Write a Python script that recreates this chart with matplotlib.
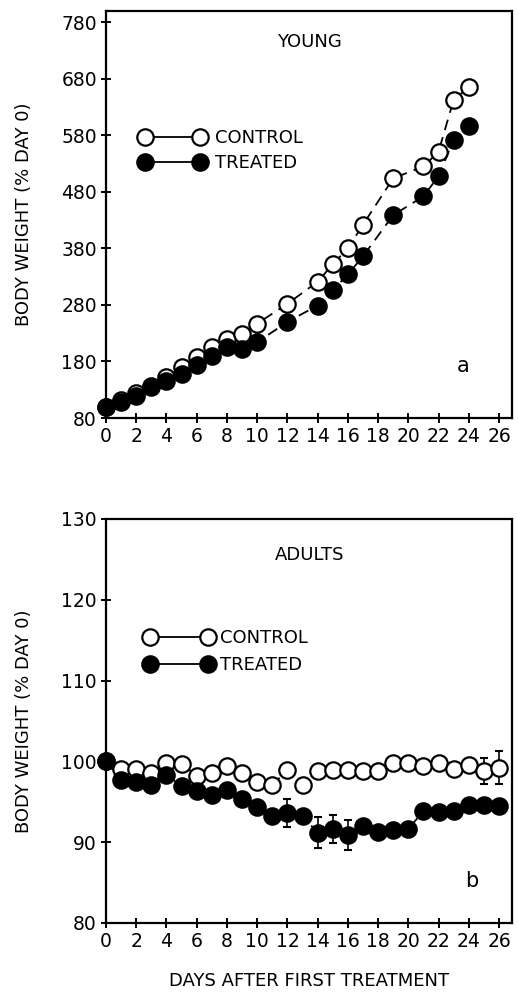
import matplotlib
matplotlib.use("Agg")
import matplotlib.pyplot as plt
from matplotlib.lines import Line2D
import numpy as np

plt.rcParams['font.family'] = ['DejaVu Sans']

# ---------------- data ----------------
young_days = [0, 1, 2, 3, 4, 5, 6, 7, 8, 9, 10, 12, 14, 15, 16, 17, 19, 21, 22, 23, 24]
young_control = [100, 112, 124, 135, 152, 170, 188, 205, 220, 229, 247, 282, 321, 352, 380, 422, 504, 525, 551, 643, 665]
young_treated = [100, 108, 119, 137, 146, 158, 173, 190, 205, 202, 214, 250, 279, 306, 334, 366, 439, 472, 508, 572, 596]

adult_days = list(range(0, 27))
adult_control = [100, 99.1, 99.0, 98.6, 99.8, 99.7, 98.2, 98.6, 99.4, 98.6, 97.5, 97.1, 98.9, 97.1,
                 98.8, 98.9, 98.9, 98.8, 98.8, 99.8, 99.8, 99.4, 99.8, 99.0, 99.5, 98.8, 99.2]
adult_treated = [100, 97.7, 97.5, 97.1, 98.3, 97.0, 96.3, 95.9, 96.5, 95.3, 94.3, 93.2, 93.6, 93.2,
                 91.2, 91.6, 90.9, 92.0, 91.3, 91.5, 91.6, 93.9, 93.7, 93.8, 94.6, 94.6, 94.5]
adult_control_err = [0]*25 + [1.6, 2.05]
adult_treated_err = [0]*12 + [1.7, 0, 1.9, 1.75, 1.9] + [0]*10

young_yticks = [80, 180, 280, 380, 480, 580, 680, 780]
adult_yticks = [80, 90, 100, 110, 120, 130]
xticks = list(range(0, 27, 2))

FS = 13
TFS = 13.5
W, H = 518, 998
fig = plt.figure(figsize=(W/100, H/100), dpi=100)

def px_axes(left, top, right, bottom):
    return fig.add_axes([left/W, 1 - bottom/H, (right-left)/W, (bottom-top)/H])

ax1 = px_axes(106, 11, 512, 418)
ax2 = px_axes(106, 519, 512, 923)

ms = 11.8
mew = 1.6
dash = (0, (6, 4))

def style(ax, yticks, ylim):
    ax.set_xlim(0, 26.86)
    ax.set_ylim(*ylim)
    ax.set_xticks(xticks)
    ax.set_yticks(yticks)
    ax.tick_params(direction='inout', length=7, width=1.4, labelsize=TFS, pad=3)
    for s in ax.spines.values():
        s.set_linewidth(1.6)
    ax.set_ylabel('BODY WEIGHT (% DAY 0)', fontsize=FS)
    ax.yaxis.set_label_coords(-0.18, 0.5)

# top panel
ax1.plot(young_days, young_control, linestyle=dash, color='black', lw=1.3,
         marker='o', ms=ms, mfc='white', mec='black', mew=mew, clip_on=False, zorder=3)
ax1.plot(young_days, young_treated, linestyle=dash, color='black', lw=1.3,
         marker='o', ms=ms, mfc='black', mec='black', mew=mew, clip_on=False, zorder=4)
style(ax1, young_yticks, (80, 800))
ax1.text(0.502, 0.925, 'YOUNG', transform=ax1.transAxes, ha='center', va='center', fontsize=FS)
ax1.text(0.879, 0.128, 'a', transform=ax1.transAxes, ha='center', va='center', fontsize=FS+2)

# bottom panel
ce = np.array(adult_control_err, dtype=float)
te = np.array(adult_treated_err, dtype=float)
ax2.errorbar(adult_days, adult_control, yerr=np.where(ce > 0, ce, np.nan), fmt='none',
             ecolor='black', elinewidth=1.2, capsize=3, capthick=1.5, zorder=2, clip_on=False)
ax2.errorbar(adult_days, adult_treated, yerr=np.where(te > 0, te, np.nan), fmt='none',
             ecolor='black', elinewidth=1.2, capsize=3, capthick=1.5, zorder=2, clip_on=False)
ax2.plot(adult_days, adult_control, linestyle=dash, color='black', lw=1.3,
         marker='o', ms=ms, mfc='white', mec='black', mew=mew, clip_on=False, zorder=3)
ax2.plot(adult_days, adult_treated, linestyle=dash, color='black', lw=1.3,
         marker='o', ms=ms, mfc='black', mec='black', mew=mew, clip_on=False, zorder=4)
style(ax2, adult_yticks, (80, 130))
ax2.text(0.502, 0.912, 'ADULTS', transform=ax2.transAxes, ha='center', va='center', fontsize=FS)
ax2.text(0.901, 0.103, 'b', transform=ax2.transAxes, ha='center', va='center', fontsize=FS+2)
ax2.set_xlabel('DAYS AFTER FIRST TREATMENT', fontsize=FS)
ax2.xaxis.set_label_coords(0.5, -0.121)

# legends
def add_legend(ax, x, y, hl, pad, spacing):
    handles = [Line2D([], [], color='black', lw=1.3, marker='o', ms=ms, mfc='white', mec='black', mew=mew),
               Line2D([], [], color='black', lw=1.3, marker='o', ms=ms, mfc='black', mec='black', mew=mew)]
    ax.legend(handles, ['CONTROL', 'TREATED'], loc='upper left', bbox_to_anchor=(x, y),
              frameon=False, numpoints=2, handlelength=hl, handletextpad=pad, borderpad=0,
              borderaxespad=0, labelspacing=spacing, fontsize=FS)

add_legend(ax1, 0.083, 0.71, 3.65, 0.53, 0.38)
add_legend(ax2, 0.095, 0.728, 3.82, 0.37, 0.52)

fig.savefig('out.png', dpi=100)
